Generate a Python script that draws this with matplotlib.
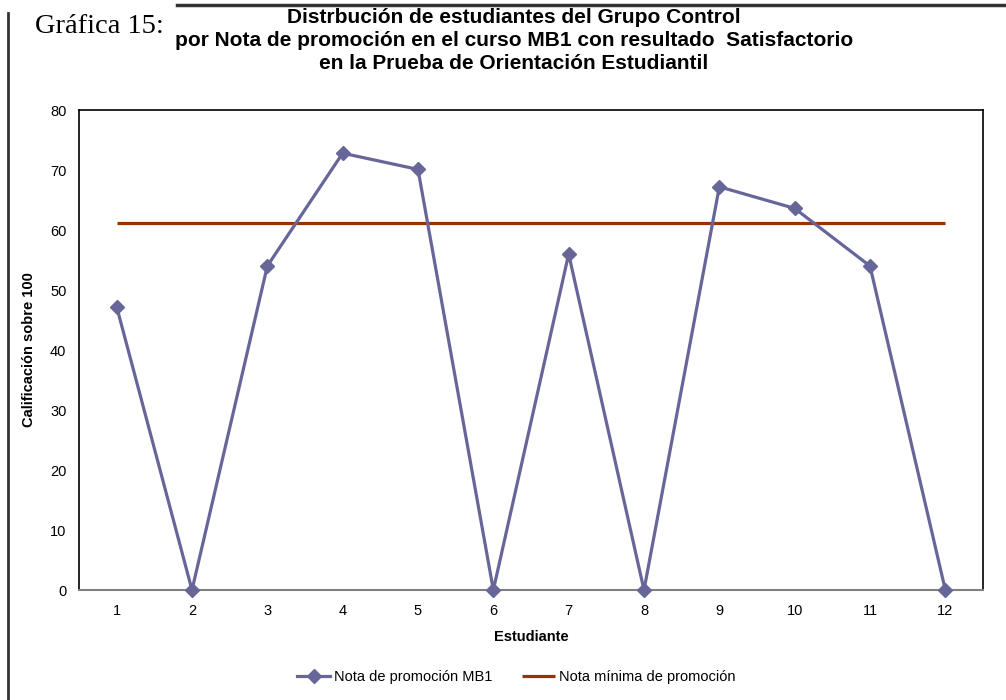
import matplotlib
matplotlib.use("Agg")
import matplotlib.pyplot as plt
from matplotlib.lines import Line2D

estudiantes = [1, 2, 3, 4, 5, 6, 7, 8, 9, 10, 11, 12]
nota_mb1 = [47.2, 0, 54, 72.8, 70.1, 0, 56, 0, 67.2, 63.6, 54, 0]
nota_minima = [61.1] * 12
y_ticks = [0, 10, 20, 30, 40, 50, 60, 70, 80]

titulo = ("Distrbución de estudiantes del Grupo Control\n"
          "por Nota de promoción en el curso MB1 con resultado  Satisfactorio\n"
          "en la Prueba de Orientación Estudiantil")

plt.rcParams['font.family'] = ['Liberation Sans', 'DejaVu Sans']

fig = plt.figure(figsize=(10.06, 7.0), dpi=100)
ax = fig.add_axes([79 / 1006, 1 - 590 / 700, (983 - 79) / 1006, (590 - 110) / 700])

morado = "#666699"
rojo = "#993300"

ax.plot(estudiantes, nota_minima, color=rojo, lw=2.3, solid_capstyle="butt",
        label="Nota mínima de promoción", zorder=2)
ax.plot(estudiantes, nota_mb1, color=morado, lw=2.3, marker="D", ms=7.5,
        label="Nota de promoción MB1", zorder=3, clip_on=False)

ax.set_xlim(0.5, 12.5)
ax.set_ylim(0, 80)
ax.set_xticks(estudiantes)
ax.set_yticks(y_ticks)
ax.tick_params(length=0, labelsize=10.5)
ax.tick_params(axis="x", pad=10)
ax.tick_params(axis="y", pad=9)
for s in ["left", "top", "right"]:
    ax.spines[s].set_color("black")
    ax.spines[s].set_linewidth(1.2)
ax.spines["bottom"].set_color("#808080")
ax.spines["bottom"].set_linewidth(1.5)

ax.set_xlabel("Estudiante", fontsize=10.5, fontweight="bold", labelpad=9)
ax.set_ylabel("Calificación sobre 100", fontsize=10.5, fontweight="bold", labelpad=10)

fig.text(514 / 1006, 1 - 8 / 700, titulo, ha="center", va="top", fontsize=15,
         fontweight="bold", linespacing=1.27)
fig.text(35 / 1006, 1 - 33 / 700, "Gráfica 15:", ha="left", va="baseline",
         fontsize=20.5, family="Liberation Serif")

# marco exterior
fig.add_artist(Line2D([8 / 1006, 8 / 1006], [0, 1 - 13 / 700], color="#333333",
                      lw=2, transform=fig.transFigure))
fig.add_artist(Line2D([177 / 1006, 1], [1 - 4.5 / 700, 1 - 4.5 / 700], color="#333333",
                      lw=2.5, transform=fig.transFigure))

h, l = ax.get_legend_handles_labels()
fig.legend(h[::-1], l[::-1], loc="center", bbox_to_anchor=(516 / 1006, 1 - 677 / 700),
           ncol=2, frameon=False, fontsize=10.5, handlelength=2.3, handletextpad=0.25,
           columnspacing=2.0)

fig.savefig("out.png", dpi=100)
